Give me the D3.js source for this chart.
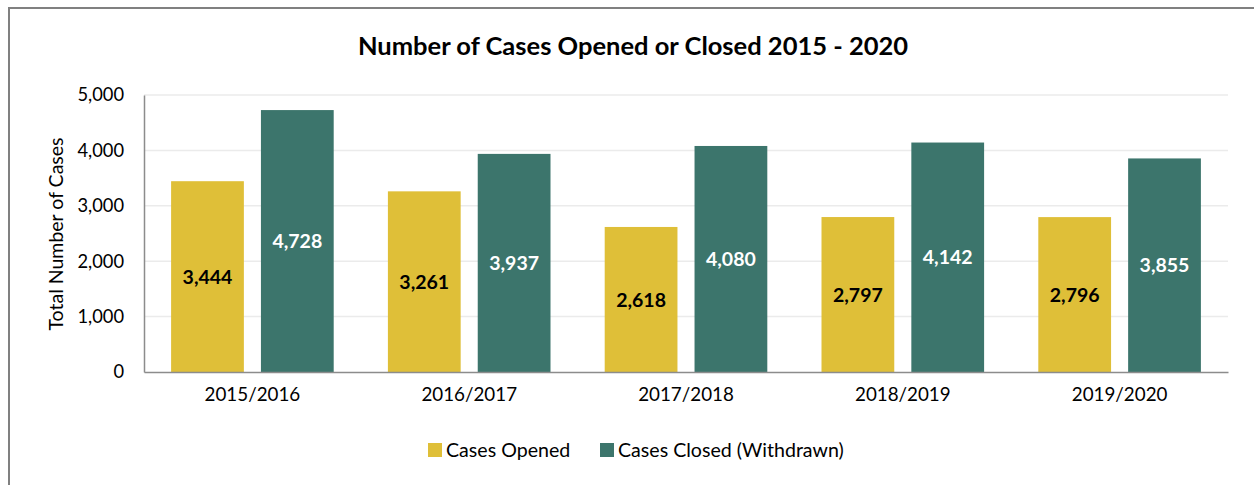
<!DOCTYPE html>
<html><head><meta charset="utf-8">
<script src="https://cdn.jsdelivr.net/npm/d3@7"></script>
<style>body{margin:0;background:#fff;} svg{display:block;}</style>
</head><body>
<script>
const categories = ["2015/2016","2016/2017","2017/2018","2018/2019","2019/2020"];
const opened = [3444,3261,2618,2797,2796];
const closed = [4728,3937,4080,4142,3855];
const seriesNames = ["Cases Opened","Cases Closed (Withdrawn)"];
const colors = ["#DFBF38","#3C756C"];
const yTicks = [0,1000,2000,3000,4000,5000];

const W=1254,H=485;
const font="Lato, 'Open Sans', sans-serif";
const svg=d3.select("body").append("svg").attr("width",W).attr("height",H);
svg.append("rect").attr("x",0).attr("y",0).attr("width",W).attr("height",H).attr("fill","#fff");
// border
svg.append("path").attr("d",`M9,${H} L9,8 L${W},8`).attr("fill","none").attr("stroke","#808080").attr("stroke-width",2);

const m={l:144,r:1228,t:95,b:372};
const x=d3.scaleBand().domain(categories).range([m.l,m.r]).paddingInner(0.25).paddingOuter(0.125);
const xs=d3.scaleBand().domain([0,1]).range([0,x.bandwidth()]).paddingInner(0.19);
const y=d3.scaleLinear().domain([0,5000]).range([m.b,m.t]);

// gridlines
svg.append("g").selectAll("line").data(yTicks.filter(d=>d>0)).join("line")
  .attr("x1",m.l).attr("x2",m.r).attr("y1",d=>y(d)).attr("y2",d=>y(d))
  .attr("stroke","#ebebeb").attr("stroke-width",1.5);

const fmt=d3.format(",");
const rows=categories.map((c,i)=>({c,vals:[opened[i],closed[i]]}));
const g=svg.append("g").selectAll("g").data(rows).join("g").attr("transform",d=>`translate(${x(d.c)},0)`);
g.selectAll("rect").data(d=>d.vals.map((v,k)=>({v,k}))).join("rect")
  .attr("x",d=>xs(d.k)).attr("width",xs.bandwidth())
  .attr("y",d=>y(d.v)).attr("height",d=>y(0)-y(d.v)).attr("fill",d=>colors[d.k]);
g.selectAll("text").data(d=>d.vals.map((v,k)=>({v,k}))).join("text")
  .attr("x",d=>xs(d.k)+xs.bandwidth()/2).attr("y",d=>(y(d.v)+y(0))/2)
  .attr("dy","0.36em").attr("text-anchor","middle")
  .attr("font-family",font).attr("font-weight","bold").attr("font-size",19.5)
  .attr("fill",d=>d.k===0?"#000":"#fff").text(d=>fmt(d.v));

// axes
const yAxis=svg.append("g").attr("transform",`translate(${m.l},0)`)
  .call(d3.axisLeft(y).tickValues(yTicks).tickFormat(fmt).tickSize(0).tickPadding(20));
yAxis.select(".domain").attr("stroke","#8c8c8c").attr("stroke-width",1.5);
yAxis.selectAll("text").attr("font-family",font).attr("font-size",18.3).attr("fill","#000");

const xAxis=svg.append("g").attr("transform",`translate(0,${m.b})`)
  .call(d3.axisBottom(x).tickSize(0).tickPadding(16));
xAxis.select(".domain").attr("stroke","#8c8c8c").attr("stroke-width",1.5);
xAxis.selectAll("text").attr("font-family",font).attr("font-size",18.8).attr("fill","#000");

// title
svg.append("text").attr("x",633).attr("y",55).attr("text-anchor","middle")
  .attr("font-family",font).attr("font-weight","bold").attr("font-size",25.5).attr("fill","#000")
  .text("Number of Cases Opened or Closed 2015 - 2020");

// y title
svg.append("text").attr("transform",`translate(63,234) rotate(-90)`).attr("text-anchor","middle")
  .attr("font-family",font).attr("font-size",19.5).attr("fill","#000").text("Total Number of Cases");

// legend
const leg=[{x:428},{x:600}];
seriesNames.forEach((n,i)=>{
  svg.append("rect").attr("x",leg[i].x).attr("y",443).attr("width",14).attr("height",14).attr("fill",colors[i]);
  svg.append("text").attr("x",leg[i].x+18).attr("y",450).attr("dy","0.35em")
    .attr("font-family",font).attr("font-size",19.6).attr("fill","#000").text(n);
});
</script>
</body></html>
